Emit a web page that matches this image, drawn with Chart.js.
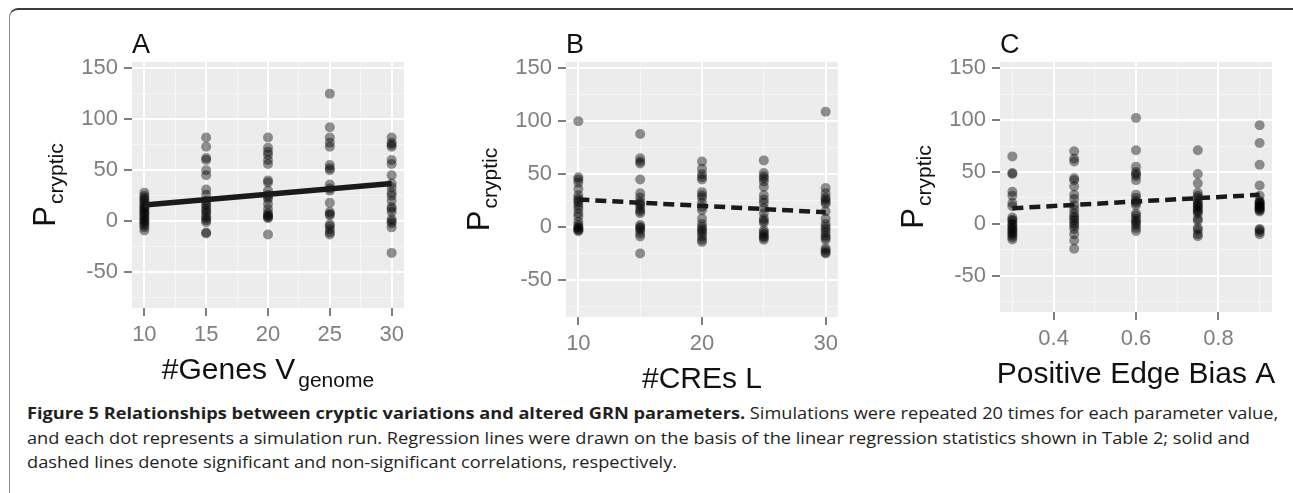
<!DOCTYPE html>
<html>
<head>
<meta charset="utf-8">
<script src="https://cdn.jsdelivr.net/npm/chart.js@4.4.1/dist/chart.umd.min.js"></script>
<style>
  body { margin: 0; background: #fff; width: 1293px; height: 493px; overflow: hidden; position: relative; }
  #frame { position: absolute; left: 9px; top: 8px; width: 1300px; height: 520px;
           border-top: 2px solid #3a3a3a; border-left: 1px solid #8a8a8a; border-top-left-radius: 9px; }
  canvas { position: absolute; top: 0; }
  #caption { position: absolute; left: 27px; top: 401px; font-family: "Open Sans", sans-serif; font-size: 16.5px;
             line-height: 24.5px; color: #231f20; white-space: nowrap; }
  #caption div { transform-origin: 0 0; }
</style>
</head>
<body>
<div id="frame"></div>
<canvas id="panelA" width="430" height="400" style="left:0px"></canvas>
<canvas id="panelB" width="430" height="400" style="left:430px"></canvas>
<canvas id="panelC" width="433" height="400" style="left:860px"></canvas>
<div id="caption">
  <div><b>Figure 5 Relationships between cryptic variations and altered GRN parameters.</b> Simulations were repeated 20 times for each parameter value,</div>
  <div>and each dot represents a simulation run. Regression lines were drawn on the basis of the linear regression statistics shown in Table 2; solid and</div>
  <div>dashed lines denote significant and non-significant correlations, respectively.</div>
</div>
<script>
// shared y axis
const yMin = -85;
const yMax = 156;
const yMajor = [-50, 0, 50, 100, 150];
const yMinor = [-75, -25, 25, 75, 125];

// A: number of genes
const genesX = [10, 15, 20, 25, 30];
const genesMinor = [12.5, 17.5, 22.5, 27.5];
const genes10 = [28, 25, 23, 21, 19, 17, 15, 13, 12, 10, 8, 7, 5, 3, 1, 0, -2, -4, -6, -9];
const genes15 = [82, 73, 62, 60, 50, 45, 31, 26, 20, 17, 15, 12, 10, 8, 5, 3, 1, -1, -11, -12];
const genes20 = [82, 72, 68, 65, 60, 56, 40, 38, 30, 26, 24, 22, 17, 12, 8, 6, 5, 4, 3, -13];
const genes25 = [125, 92, 82, 77, 73, 55, 52, 50, 36, 32, 30, 18, 9, 7, 6, -3, -5, -8, -11, -13];
const genes30 = [82, 77, 75, 73, 60, 56, 45, 37, 33, 28, 25, 20, 14, 12, 9, 2, 0, -2, -6, -31];
const genesFit = [16, 37];

// B: number of CREs
const cresX = [10, 15, 20, 25, 30];
const cresMajor = [10, 20, 30];
const cresMinor = [15, 25];
const cres10 = [100, 47, 45, 42, 36, 30, 27, 25, 23, 20, 17, 13, 10, 5, 2, 0, -1, -2, -3, -4];
const cres15 = [88, 65, 62, 60, 45, 32, 28, 24, 22, 20, 17, 15, 13, 2, 0, -1, -3, -6, -9, -25];
const cres20 = [62, 55, 50, 47, 45, 33, 30, 28, 23, 19, 16, 8, 3, 0, -2, -4, -6, -9, -12, -14];
const cres25 = [63, 51, 48, 46, 43, 38, 30, 26, 23, 18, 13, 8, 6, 4, -3, -5, -7, -9, -10, -12];
const cres30 = [109, 37, 32, 28, 26, 24, 22, 15, 8, 3, 0, -2, -5, -8, -10, -12, -20, -22, -24, -25];
const cresFit = [26, 14];

// C: positive edge bias
const biasX = [0.3, 0.45, 0.6, 0.75, 0.9];
const biasMajor = [0.4, 0.6, 0.8];
const biasLabels = ["0.4", "0.6", "0.8"];
const biasMinor = [0.3, 0.5, 0.7, 0.9];
const bias30 = [65, 49, 48, 31, 27, 20, 17, 6, 4, 3, 0, -1, -3, -5, -6, -8, -9, -11, -13, -15];
const bias45 = [70, 63, 60, 44, 42, 36, 28, 24, 18, 14, 10, 7, 5, 3, 0, -2, -5, -10, -16, -24];
const bias60 = [102, 71, 55, 50, 48, 46, 42, 28, 25, 22, 20, 18, 10, 8, 5, 3, 1, -1, -4, -7];
const bias75 = [71, 48, 39, 30, 27, 25, 22, 20, 18, 17, 15, 13, 12, 10, 5, 3, -4, -6, -10, -12];
const bias90 = [95, 78, 57, 37, 27, 22, 21, 20, 19, 18, 17, 16, 15, 14, 13, 12, -5, -6, -8, -10];
const biasFit = [15, 28];

const FONT = '"Liberation Sans", Arial, sans-serif';

const plotBg = {
    id: "plotBg",
    beforeDraw(chart) {
        const a = chart.chartArea, c = chart.ctx;
        c.save();
        c.fillStyle = "#ececec";
        c.fillRect(a.left, a.top, a.width, a.height);
        c.restore();
    }
};

const panelText = {
    id: "panelText",
    afterDraw(chart, args, o) {
        const a = chart.chartArea, c = chart.ctx;
        c.save();
        c.fillStyle = "#111";
        c.textBaseline = "alphabetic";
        c.textAlign = "left";
        c.font = "27px " + FONT;
        c.fillText(o.letter, a.left, 53);

        // x title with optional subscript
        c.font = "30px " + FONT;
        const w1 = c.measureText(o.xTitle).width;
        c.font = "21px " + FONT;
        const w2 = o.xSub ? c.measureText(o.xSub).width + 3 : 0;
        let x0 = (a.left + a.right) / 2 - (w1 + w2) / 2;
        const yb = a.bottom + 71;
        c.font = "30px " + FONT;
        c.fillText(o.xTitle, x0, yb);
        if (o.xSub) {
            c.font = "21px " + FONT;
            c.fillText(o.xSub, x0 + w1 + 3, yb + 8);
        }

        // y title P_cryptic, rotated
        c.translate(a.left - 77, (a.top + a.bottom) / 2);
        c.rotate(-Math.PI / 2);
        c.font = "31px " + FONT;
        const p1 = c.measureText("P").width;
        c.font = "21px " + FONT;
        const p2 = c.measureText("cryptic").width + 2;
        const s = -(p1 + p2) / 2;
        c.font = "31px " + FONT;
        c.fillText("P", s, 0);
        c.font = "21px " + FONT;
        c.fillText("cryptic", s + p1 + 2, 8);
        c.restore();
    }
};

function pointsOf(xs, cols) {
    return xs.flatMap((x, i) => cols[i].map(y => ({ x: x, y: y })));
}

function axis(min, max, major, minor, labels, fitSize, isX) {
    const isMajor = v => major.some(m => Math.abs(m - v) < 1e-9);
    return {
        type: "linear",
        min: min,
        max: max,
        afterBuildTicks: s => {
            s.ticks = major.concat(minor).sort((p, q) => p - q).map(v => ({ value: v }));
        },
        afterFit: s => {
            if (isX) s.height = fitSize; else s.width = fitSize;
        },
        border: { display: false },
        grid: {
            color: ctx => isMajor(ctx.tick.value) ? "#ffffff" : "#f6f6f6",
            lineWidth: ctx => isMajor(ctx.tick.value) ? 2 : 1,
            tickColor: ctx => isMajor(ctx.tick.value) ? "#7f7f7f" : "rgba(0,0,0,0)",
            tickWidth: 2,
            tickLength: 8
        },
        ticks: {
            autoSkip: false,
            maxRotation: 0,
            padding: 6,
            color: "#7f7f7f",
            font: { family: FONT, size: 22 },
            callback: v => {
                const i = major.findIndex(m => Math.abs(m - v) < 1e-9);
                return i < 0 ? "" : labels[i];
            }
        }
    };
}

function makePanel(id, cfg) {
    new Chart(document.getElementById(id).getContext("2d"), {
        type: "scatter",
        data: {
            datasets: [{
                data: [{ x: cfg.x[0], y: cfg.fit[0] }, { x: cfg.x[cfg.x.length - 1], y: cfg.fit[1] }],
                showLine: true,
                borderColor: "#1a1a1a",
                borderWidth: cfg.dashed ? 4.5 : 5.5,
                borderDash: cfg.dashed ? [11, 6] : [],
                borderCapStyle: "butt",
                pointRadius: 0,
                order: 0
            }, {
                data: pointsOf(cfg.x, cfg.cols),
                backgroundColor: "rgba(0,0,0,0.42)",
                borderWidth: 0,
                pointRadius: 5,
                order: 1
            }]
        },
        options: {
            responsive: false,
            animation: false,
            events: [],
            layout: { padding: cfg.padding },
            plugins: {
                legend: { display: false },
                tooltip: { enabled: false },
                panelText: cfg.text
            },
            scales: {
                x: axis(cfg.xMin, cfg.xMax, cfg.xMajor, cfg.xMinor, cfg.xLabels, 45, true),
                y: axis(yMin, yMax, yMajor, yMinor, yMajor.map(String), 50, false)
            }
        },
        plugins: [plotBg, panelText]
    });
}

makePanel("panelA", {
    x: genesX, cols: [genes10, genes15, genes20, genes25, genes30], fit: genesFit, dashed: false,
    xMin: 9, xMax: 31, xMajor: genesX, xMinor: genesMinor, xLabels: genesX.map(String),
    padding: { left: 82, right: 26, top: 62, bottom: 47 },
    text: { letter: "A", xTitle: "#Genes V", xSub: "genome" }
});

makePanel("panelB", {
    x: cresX, cols: [cres10, cres15, cres20, cres25, cres30], fit: cresFit, dashed: true,
    xMin: 9, xMax: 31, xMajor: cresMajor, xMinor: cresMinor, xLabels: cresMajor.map(String),
    padding: { left: 86, right: 22, top: 62, bottom: 38 },
    text: { letter: "B", xTitle: "#CREs L", xSub: "" }
});

makePanel("panelC", {
    x: biasX, cols: [bias30, bias45, bias60, bias75, bias90], fit: biasFit, dashed: true,
    xMin: 0.27, xMax: 0.93, xMajor: biasMajor, xMinor: biasMinor, xLabels: biasLabels,
    padding: { left: 90, right: 21, top: 62, bottom: 43 },
    text: { letter: "C", xTitle: "Positive Edge Bias A", xSub: "" }
});

// stretch caption lines so the first one ends where the printed one does
const lines = document.querySelectorAll("#caption div");
const k = 1251 / lines[0].scrollWidth;
lines.forEach(l => { l.style.transform = "scaleX(" + k + ")"; });
</script>
</body>
</html>
